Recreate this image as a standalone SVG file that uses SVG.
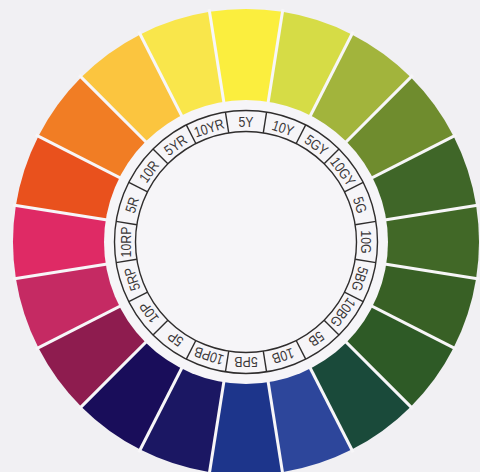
<svg xmlns="http://www.w3.org/2000/svg" xmlns:xlink="http://www.w3.org/1999/xlink" width="480" height="472" viewBox="0 0 480 472">
<style>
.lbl{font-family:"Liberation Sans",Arial,sans-serif;font-size:14.5px;fill:#3b3838;text-anchor:middle}
.ring{fill:none;stroke:#2f2d2d;stroke-width:1.4}
.sep{stroke:#f7f6f8;stroke-width:3}
.cell{stroke:#2f2d2d;stroke-width:1.4}
</style>
<defs>
<path id="wedge" d="M246,242 L209.55,11.87 A233,233 0 0 1 282.45,11.87 Z"/>
<line id="sepline" x1="246" y1="242" x2="246" y2="6"/>
<line id="cellline" x1="246" y1="110.5" x2="246" y2="131.5"/>
</defs>
<rect width="480" height="472" fill="#f1f0f3"/>
<g id="wedges">
<g id="hue-5Y"><use xlink:href="#wedge" fill="#fbee3e"/></g>
<g id="hue-10Y"><use xlink:href="#wedge" fill="#d6dc46" transform="rotate(18 246 242)"/></g>
<g id="hue-5GY"><use xlink:href="#wedge" fill="#a2b43c" transform="rotate(36 246 242)"/></g>
<g id="hue-10GY"><use xlink:href="#wedge" fill="#6f8c2e" transform="rotate(54 246 242)"/></g>
<g id="hue-5G"><use xlink:href="#wedge" fill="#3f6628" transform="rotate(72 246 242)"/></g>
<g id="hue-10G"><use xlink:href="#wedge" fill="#416827" transform="rotate(90 246 242)"/></g>
<g id="hue-5BG"><use xlink:href="#wedge" fill="#386025" transform="rotate(108 246 242)"/></g>
<g id="hue-10BG"><use xlink:href="#wedge" fill="#2e5a26" transform="rotate(126 246 242)"/></g>
<g id="hue-5B"><use xlink:href="#wedge" fill="#1a4a3a" transform="rotate(144 246 242)"/></g>
<g id="hue-10B"><use xlink:href="#wedge" fill="#2d469b" transform="rotate(162 246 242)"/></g>
<g id="hue-5PB"><use xlink:href="#wedge" fill="#1d358b" transform="rotate(180 246 242)"/></g>
<g id="hue-10PB"><use xlink:href="#wedge" fill="#1b1763" transform="rotate(198 246 242)"/></g>
<g id="hue-5P"><use xlink:href="#wedge" fill="#190d5a" transform="rotate(216 246 242)"/></g>
<g id="hue-10P"><use xlink:href="#wedge" fill="#8e1c4f" transform="rotate(234 246 242)"/></g>
<g id="hue-5RP"><use xlink:href="#wedge" fill="#c52a63" transform="rotate(252 246 242)"/></g>
<g id="hue-10RP"><use xlink:href="#wedge" fill="#df2a65" transform="rotate(270 246 242)"/></g>
<g id="hue-5R"><use xlink:href="#wedge" fill="#e9511d" transform="rotate(288 246 242)"/></g>
<g id="hue-10R"><use xlink:href="#wedge" fill="#f17d24" transform="rotate(306 246 242)"/></g>
<g id="hue-5YR"><use xlink:href="#wedge" fill="#fbc53f" transform="rotate(324 246 242)"/></g>
<g id="hue-10YR"><use xlink:href="#wedge" fill="#f9e64b" transform="rotate(342 246 242)"/></g>
</g>
<g id="connectors">
<use xlink:href="#sepline" class="sep" transform="rotate(9 246 242)"/>
<use xlink:href="#sepline" class="sep" transform="rotate(27 246 242)"/>
<use xlink:href="#sepline" class="sep" transform="rotate(45 246 242)"/>
<use xlink:href="#sepline" class="sep" transform="rotate(63 246 242)"/>
<use xlink:href="#sepline" class="sep" transform="rotate(81 246 242)"/>
<use xlink:href="#sepline" class="sep" transform="rotate(99 246 242)"/>
<use xlink:href="#sepline" class="sep" transform="rotate(117 246 242)"/>
<use xlink:href="#sepline" class="sep" transform="rotate(135 246 242)"/>
<use xlink:href="#sepline" class="sep" transform="rotate(153 246 242)"/>
<use xlink:href="#sepline" class="sep" transform="rotate(171 246 242)"/>
<use xlink:href="#sepline" class="sep" transform="rotate(189 246 242)"/>
<use xlink:href="#sepline" class="sep" transform="rotate(207 246 242)"/>
<use xlink:href="#sepline" class="sep" transform="rotate(225 246 242)"/>
<use xlink:href="#sepline" class="sep" transform="rotate(243 246 242)"/>
<use xlink:href="#sepline" class="sep" transform="rotate(261 246 242)"/>
<use xlink:href="#sepline" class="sep" transform="rotate(279 246 242)"/>
<use xlink:href="#sepline" class="sep" transform="rotate(297 246 242)"/>
<use xlink:href="#sepline" class="sep" transform="rotate(315 246 242)"/>
<use xlink:href="#sepline" class="sep" transform="rotate(333 246 242)"/>
<use xlink:href="#sepline" class="sep" transform="rotate(351 246 242)"/>
</g>
<circle id="disc" cx="246" cy="242" r="142" fill="#f6f5f8"/>
<g id="label-ring">
<circle class="ring" cx="246" cy="242" r="131.5"/>
<circle class="ring" cx="246" cy="242" r="110.5"/>
<use xlink:href="#cellline" class="cell" transform="rotate(9 246 242)"/>
<use xlink:href="#cellline" class="cell" transform="rotate(27 246 242)"/>
<use xlink:href="#cellline" class="cell" transform="rotate(45 246 242)"/>
<use xlink:href="#cellline" class="cell" transform="rotate(63 246 242)"/>
<use xlink:href="#cellline" class="cell" transform="rotate(81 246 242)"/>
<use xlink:href="#cellline" class="cell" transform="rotate(99 246 242)"/>
<use xlink:href="#cellline" class="cell" transform="rotate(117 246 242)"/>
<use xlink:href="#cellline" class="cell" transform="rotate(135 246 242)"/>
<use xlink:href="#cellline" class="cell" transform="rotate(153 246 242)"/>
<use xlink:href="#cellline" class="cell" transform="rotate(171 246 242)"/>
<use xlink:href="#cellline" class="cell" transform="rotate(189 246 242)"/>
<use xlink:href="#cellline" class="cell" transform="rotate(207 246 242)"/>
<use xlink:href="#cellline" class="cell" transform="rotate(225 246 242)"/>
<use xlink:href="#cellline" class="cell" transform="rotate(243 246 242)"/>
<use xlink:href="#cellline" class="cell" transform="rotate(261 246 242)"/>
<use xlink:href="#cellline" class="cell" transform="rotate(279 246 242)"/>
<use xlink:href="#cellline" class="cell" transform="rotate(297 246 242)"/>
<use xlink:href="#cellline" class="cell" transform="rotate(315 246 242)"/>
<use xlink:href="#cellline" class="cell" transform="rotate(333 246 242)"/>
<use xlink:href="#cellline" class="cell" transform="rotate(351 246 242)"/>
<text class="lbl" transform="rotate(0 246 242) translate(246 127.2) scale(0.85 1)">5Y</text>
<text class="lbl" transform="rotate(18 246 242) translate(246 127.2) scale(0.85 1)">10Y</text>
<text class="lbl" transform="rotate(36 246 242) translate(246 127.2) scale(0.85 1)">5GY</text>
<text class="lbl" transform="rotate(54 246 242) translate(246 127.2) scale(0.85 1)">10GY</text>
<text class="lbl" transform="rotate(72 246 242) translate(246 127.2) scale(0.85 1)">5G</text>
<text class="lbl" transform="rotate(90 246 242) translate(246 127.2) scale(0.85 1)">10G</text>
<text class="lbl" transform="rotate(108 246 242) translate(246 127.2) scale(0.85 1)">5BG</text>
<text class="lbl" transform="rotate(126 246 242) translate(246 127.2) scale(0.85 1)">10BG</text>
<text class="lbl" transform="rotate(144 246 242) translate(246 127.2) scale(0.85 1)">5B</text>
<text class="lbl" transform="rotate(162 246 242) translate(246 127.2) scale(0.85 1)">10B</text>
<text class="lbl" transform="rotate(180 246 242) translate(246 127.2) scale(0.85 1)">5PB</text>
<text class="lbl" transform="rotate(198 246 242) translate(246 127.2) scale(0.85 1)">10PB</text>
<text class="lbl" transform="rotate(216 246 242) translate(246 127.2) scale(0.85 1)">5P</text>
<text class="lbl" transform="rotate(234 246 242) translate(246 127.2) scale(0.85 1)">10P</text>
<text class="lbl" transform="rotate(252 246 242) translate(246 127.2) scale(0.85 1)">5RP</text>
<text class="lbl" transform="rotate(270 246 242) translate(246 127.2) scale(0.85 1)">10RP</text>
<text class="lbl" transform="rotate(288 246 242) translate(246 127.2) scale(0.85 1)">5R</text>
<text class="lbl" transform="rotate(306 246 242) translate(246 127.2) scale(0.85 1)">10R</text>
<text class="lbl" transform="rotate(324 246 242) translate(246 127.2) scale(0.85 1)">5YR</text>
<text class="lbl" transform="rotate(342 246 242) translate(246 127.2) scale(0.85 1)">10YR</text>
</g>
</svg>
